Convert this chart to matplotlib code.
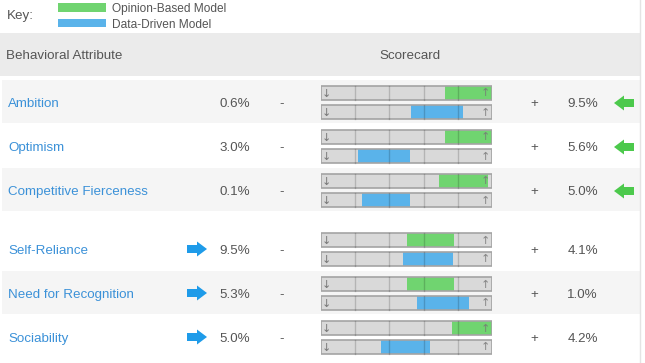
import matplotlib
matplotlib.use("Agg")
import matplotlib.pyplot as plt
from matplotlib.patches import Rectangle, FancyArrow

plt.rcParams['font.family'] = ['Liberation Sans', 'DejaVu Sans']

# data (scale 0..5 along each bar)
attributes = ['Ambition', 'Optimism', 'Competitive Fierceness',
              'Self-Reliance', 'Need for Recognition', 'Sociability']
low_pct = ['0.6%', '3.0%', '0.1%', '9.5%', '5.3%', '5.0%']
high_pct = ['9.5%', '5.6%', '5.0%', '4.1%', '1.0%', '4.2%']
opinion_lo = [3.63, 3.63, 3.45, 2.51, 2.51, 3.83]
opinion_hi = [5.00, 5.00, 4.88, 3.89, 3.89, 5.00]
data_lo = [2.63, 1.08, 1.20, 2.40, 2.80, 1.75]
data_hi = [4.15, 2.60, 2.60, 3.86, 4.33, 3.19]
arrow_side = ['high', 'high', 'high', 'low', 'low', 'low']
groups = [0, 0, 0, 1, 1, 1]

GREEN = '#70d470'
BLUE = '#5ab3ea'
ARROW_GREEN = '#4cc94c'
ARROW_BLUE = '#1e9be9'
TEXT = '#555555'
LINK = '#3b91d8'
W, H = 645, 363

fig = plt.figure(figsize=(W / 100, H / 100), dpi=100)
ax = fig.add_axes([0, 0, 1, 1])
ax.set_xlim(0, W)
ax.set_ylim(H, 0)
ax.axis('off')

# scorecard axes shares the pixel rows but uses the 0..5 score scale
x0, x1 = 321, 492
sc = fig.add_axes([x0 / W, 0, (x1 - x0) / W, 1])
sc.set_xlim(0, 5)
sc.set_ylim(H, 0)
sc.axis('off')
sc.patch.set_alpha(0)

fs = 9.6
dy = 1.5  # nudge text down to sit centred like the reference

# key
ax.text(7, 15 + dy, 'Key:', fontsize=fs, color=TEXT, va='center')
ax.add_patch(Rectangle((58, 3), 48, 9, color=GREEN, lw=0))
ax.add_patch(Rectangle((58, 19), 48, 8, color=BLUE, lw=0))
ax.text(112, 7.5 + dy, 'Opinion-Based Model', fontsize=8.6, color=TEXT, va='center')
ax.text(112, 23 + dy, 'Data-Driven Model', fontsize=8.6, color=TEXT, va='center')

# header
ax.add_patch(Rectangle((0, 33), 640, 43, color='#ebebeb', lw=0))
ax.text(6, 54.5 + dy, 'Behavioral Attribute', fontsize=fs, color=TEXT, va='center')
ax.text(410, 54.5 + dy, 'Scorecard', fontsize=fs, color=TEXT, va='center', ha='center')
ax.plot([640, 640], [0, H], color='#e4e4e4', lw=1)

row_h = 44
bar_h = 14
for i, name in enumerate(attributes):
    cy = 102.5 + row_h * i + 15 * groups[i]
    if i % 2 == 0:
        ax.add_patch(Rectangle((2, cy - 22.5), 638, 43, color='#f5f5f5', lw=0))
    ty = cy + dy
    ax.text(8, ty, name, fontsize=fs, color=LINK, va='center')
    ax.text(250, ty, low_pct[i], fontsize=fs, color=TEXT, va='center', ha='right')
    ax.text(282, ty, '-', fontsize=fs, color=TEXT, va='center', ha='center')
    ax.text(534, ty, '+', fontsize=fs, color=TEXT, va='center', ha='center')
    ax.text(598, ty, high_pct[i], fontsize=fs, color=TEXT, va='center', ha='right')
    if arrow_side[i] == 'high':
        ax.add_patch(FancyArrow(634, cy + 0.5, -20, 0, width=8, head_width=15, head_length=10,
                                length_includes_head=True, color=ARROW_GREEN, lw=0))
    else:
        ax.add_patch(FancyArrow(187, cy - 0.5, 20, 0, width=8, head_width=15, head_length=10,
                                length_includes_head=True, color=ARROW_BLUE, lw=0))

    for by, lo, hi, col in [(cy - 9.5, opinion_lo[i], opinion_hi[i], GREEN),
                            (cy + 9.5, data_lo[i], data_hi[i], BLUE)]:
        sc.barh(by, 5, left=0, height=bar_h, color='#d9d9d9', lw=0)
        sc.barh(by, hi - lo, left=lo, height=bar_h, color=col, lw=0)
        for k in range(1, 5):
            sc.plot([k, k], [by - bar_h / 2, by + bar_h / 2], color='black', alpha=0.17, lw=1)
        sc.barh(by, 5, left=0, height=bar_h, fill=False, edgecolor='#a4a4a4', lw=1.2)
        sc.text(0.15, by + 0.5, '↓', fontsize=8, color='#777777', va='center', ha='center',
                family='DejaVu Sans')
        sc.text(4.8, by + 0.5, '↑', fontsize=8, color='#777777', va='center', ha='center',
                family='DejaVu Sans', alpha=0.85)

fig.savefig('out.png', dpi=100, facecolor='white')
